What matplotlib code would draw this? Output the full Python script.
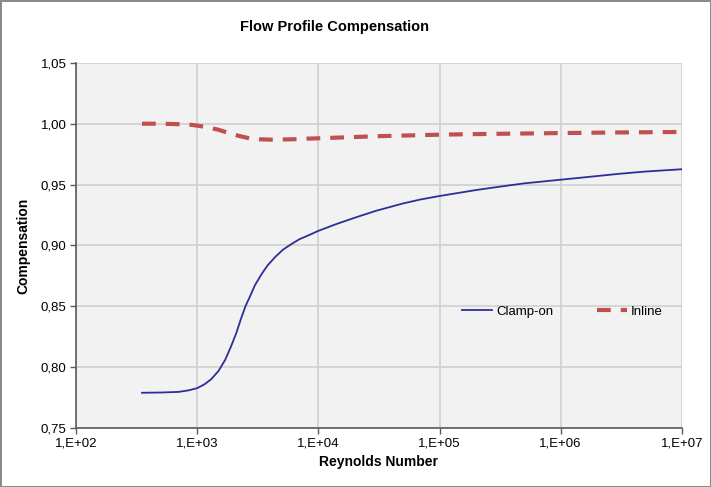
import math
import matplotlib.pyplot as plt
import matplotlib.ticker as mticker

plt.rcParams['font.family'] = ['Liberation Sans', 'DejaVu Sans']

# Clamp-on curve
clamp_re = [350, 500, 700, 850, 1000, 1150, 1300, 1500, 1700, 1900, 2100,
            2300, 2500, 2750, 3000, 3400, 3800, 4400, 5100, 6000, 7000,
            8500, 10000, 14000, 20000, 30000, 50000, 70000, 100000, 200000,
            300000, 500000, 1000000, 2000000, 3000000, 5000000, 10000000]
clamp_val = [0.779, 0.7792, 0.7797, 0.781, 0.7828, 0.786, 0.790, 0.797,
             0.806, 0.817, 0.828, 0.840, 0.850, 0.859, 0.8675, 0.8765,
             0.8835, 0.8905, 0.8965, 0.9012, 0.9052, 0.9088, 0.912, 0.9175,
             0.9228, 0.9285, 0.9345, 0.9378, 0.9406, 0.9455, 0.948, 0.951,
             0.954, 0.957, 0.9588, 0.9607, 0.9626]

# Inline curve
inline_re = [350, 500, 700, 900, 1000, 1200, 1500, 1800, 2200, 2700, 3300,
             4000, 5000, 6500, 8000, 10000, 30000, 100000, 300000, 1000000,
             3000000, 10000000]
inline_val = [1.000, 1.000, 0.9996, 0.999, 0.9984, 0.9972, 0.995, 0.9925,
              0.990, 0.988, 0.9872, 0.9869, 0.987, 0.9873, 0.9877, 0.988,
              0.9897, 0.991, 0.9917, 0.9923, 0.9928, 0.9932]

fig = plt.figure(figsize=(7.11, 4.87), dpi=100, edgecolor='#8a8a8a', linewidth=2)
ax = fig.add_axes([0.107, 0.121, 0.852, 0.750])
ax.set_facecolor('#f2f2f2')

ax.plot(clamp_re, clamp_val, color='#2e2e9a', lw=1.3, label='Clamp-on')
ax.plot(inline_re, inline_val, color='#c0504d', lw=3, dashes=(3.3, 2.4),
        label='Inline')

ax.set_xscale('log')
ax.set_xlim(1e2, 1e7)
ax.set_ylim(0.75, 1.05)
ax.xaxis.set_major_locator(mticker.LogLocator(base=10, numticks=10))
ax.xaxis.set_minor_locator(mticker.NullLocator())
ax.xaxis.set_major_formatter(mticker.FuncFormatter(
    lambda v, p: '1,E+%02d' % round(math.log10(v))))
ax.set_yticks([0.75, 0.80, 0.85, 0.90, 0.95, 1.00, 1.05])
ax.yaxis.set_major_formatter(mticker.FuncFormatter(
    lambda v, p: ('%.2f' % v).replace('.', ',')))

ax.grid(True, color='#d0d0d0', lw=1.2)
ax.set_axisbelow(True)
for s in ['top', 'right']:
    ax.spines[s].set_visible(False)
for s in ['left', 'bottom']:
    ax.spines[s].set_color('#5a5a5a')
    ax.spines[s].set_linewidth(1.2)
ax.tick_params(axis='both', direction='out', length=4, width=1,
               color='#5a5a5a', labelsize=9.5, pad=3)

fig.text(0.47, 0.944, 'Flow Profile Compensation', ha='center', va='center',
         fontsize=10.5, fontweight='bold')
ax.set_xlabel('Reynolds Number', fontsize=10, fontweight='bold', labelpad=4)
ax.set_ylabel('Compensation', fontsize=10, fontweight='bold', labelpad=7)

ax.legend(loc='center left', bbox_to_anchor=(0.637, 0.318), ncol=2,
          frameon=False, fontsize=9.5, borderpad=0, borderaxespad=0,
          handlelength=2.3, handletextpad=0.3, columnspacing=3.3)

fig.savefig('out.png', dpi=100)
